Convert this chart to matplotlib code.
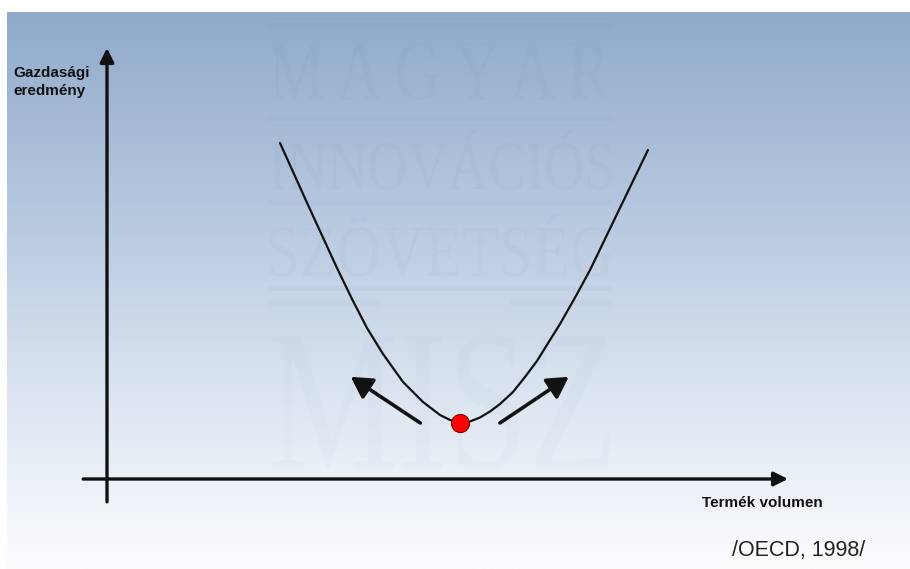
import numpy as np
import matplotlib
matplotlib.use("Agg")
import matplotlib.pyplot as plt
from matplotlib.textpath import TextPath
from matplotlib.patches import PathPatch
from matplotlib.font_manager import FontProperties
from matplotlib.transforms import Affine2D
from matplotlib.colors import LinearSegmentedColormap

# ---------------- data (chart units: axes run 0..10) ----------------
curve_x = [2.540, 2.952, 3.377, 3.598, 3.818, 4.053, 4.347, 4.640, 4.890, 5.037, 5.184,
           5.330, 5.477, 5.624, 5.771, 5.962, 6.138, 6.314, 6.505, 6.652, 6.902,
           7.093, 7.518, 7.944]
curve_y = [7.796, 6.357, 4.896, 4.176, 3.503, 2.900, 2.251, 1.787, 1.485, 1.369, 1.299,
           1.334, 1.427, 1.566, 1.740, 2.019, 2.367, 2.738, 3.225, 3.596, 4.292,
           4.849, 6.241, 7.633]
optimum_x = [5.18]
optimum_y = [1.30]
arrow_tails = [(4.60, 1.30), (5.77, 1.30)]
arrow_tips = [(3.58, 2.37), (6.78, 2.37)]
y_label = "Gazdasági\neredmény"
x_label = "Termék volumen"
source = "/OECD, 1998/"
watermark_lines = ["M A G Y A R", "INNOVÁCIÓS", "SZÖVETSÉG", "MISZ"]

W, H = 910, 569
fig = plt.figure(figsize=(W / 100, H / 100), dpi=100)
fig.patch.set_facecolor("white")

# ---------------- background (pixel space) ----------------
bg = fig.add_axes([0, 0, 1, 1])
bg.set_xlim(0, W)
bg.set_ylim(0, H)
bg.axis("off")
cmap = LinearSegmentedColormap.from_list(
    "bgc", [(0.0, "#90aacb"), (0.45, "#c0d0e4"), (0.8, "#e8eef6"), (1.0, "#fbfcfe")])
grad = np.linspace(0, 1, 256).reshape(-1, 1)
bg.imshow(grad, cmap=cmap, aspect="auto", extent=(7, W, 0, H - 12),
          origin="upper", zorder=0)

wm_font = FontProperties(family="Liberation Serif")
wm_boxes = [(270, 610, 43, 100), (270, 612, 130, 190), (270, 612, 213, 277),
            (272, 610, 335, 470)]
wm_alpha = [0.035, 0.035, 0.035, 0.022]
for txt, (x0, x1, yt, yb), a in zip(watermark_lines, wm_boxes, wm_alpha):
    tp = TextPath((0, 0), txt, size=1, prop=wm_font)
    ext = tp.get_extents()
    y0, y1 = H - yb, H - yt
    tr = (Affine2D().translate(-ext.x0, -ext.y0)
          .scale((x1 - x0) / ext.width, (y1 - y0) / ext.height)
          .translate(x0, y0))
    bg.add_patch(PathPatch(tr.transform_path(tp), facecolor="#4a6a98",
                           edgecolor="none", alpha=a, zorder=1))
for (xa, xb, yy, hh) in [(268, 612, 25, 5), (268, 612, 118, 5), (268, 612, 202, 5),
                         (268, 612, 288, 5), (268, 380, 303, 6), (510, 612, 303, 6)]:
    bg.fill_between([xa, xb], H - yy - hh / 2, H - yy + hh / 2,
                    color="#4a6a98", alpha=0.035, lw=0, zorder=1)

# ---------------- chart axes ----------------
ax = fig.add_axes([107 / W, (H - 479) / H, 681 / W, 431 / H])
ax.set_xlim(0, 10)
ax.set_ylim(0, 10)
ax.axis("off")
ax.patch.set_alpha(0)

axis_kw = dict(arrowstyle="-|>,head_length=0.6,head_width=0.3", lw=2.4,
               color="#111111", mutation_scale=14, shrinkA=0, shrinkB=0)
ax.annotate("", xy=(0, 10), xytext=(0, -0.53), arrowprops=axis_kw,
            annotation_clip=False)
ax.annotate("", xy=(10, 0), xytext=(-0.35, 0), arrowprops=axis_kw,
            annotation_clip=False)

ax.plot(curve_x, curve_y, color="#111111", lw=1.6, solid_joinstyle="round",
        solid_capstyle="round", zorder=3)

for tail, tip in zip(arrow_tails, arrow_tips):
    ax.annotate("", xy=tip, xytext=tail,
                arrowprops=dict(arrowstyle="-|>,head_length=0.7,head_width=0.4",
                                lw=2.6, color="#111111", mutation_scale=18,
                                shrinkA=0, shrinkB=0),
                annotation_clip=False)

ax.plot(optimum_x, optimum_y, "o", ms=13, mfc="#ff0000", mec="#7a0000",
        mew=0.8, zorder=5, clip_on=False)

ax.text(-1.37, 9.21, y_label, ha="left", va="center", fontsize=11,
        fontweight="bold", family="Liberation Sans", linespacing=1.35,
        color="#111111", clip_on=False)
ax.text(9.62, -0.56, x_label, ha="center", va="center", fontsize=11,
        fontweight="bold", family="Liberation Sans", color="#111111",
        clip_on=False)
ax.text(10.15, -1.67, source, ha="center", va="center", fontsize=15.5,
        family="Liberation Sans", color="#222222", clip_on=False)

fig.savefig("out.png", dpi=100)
